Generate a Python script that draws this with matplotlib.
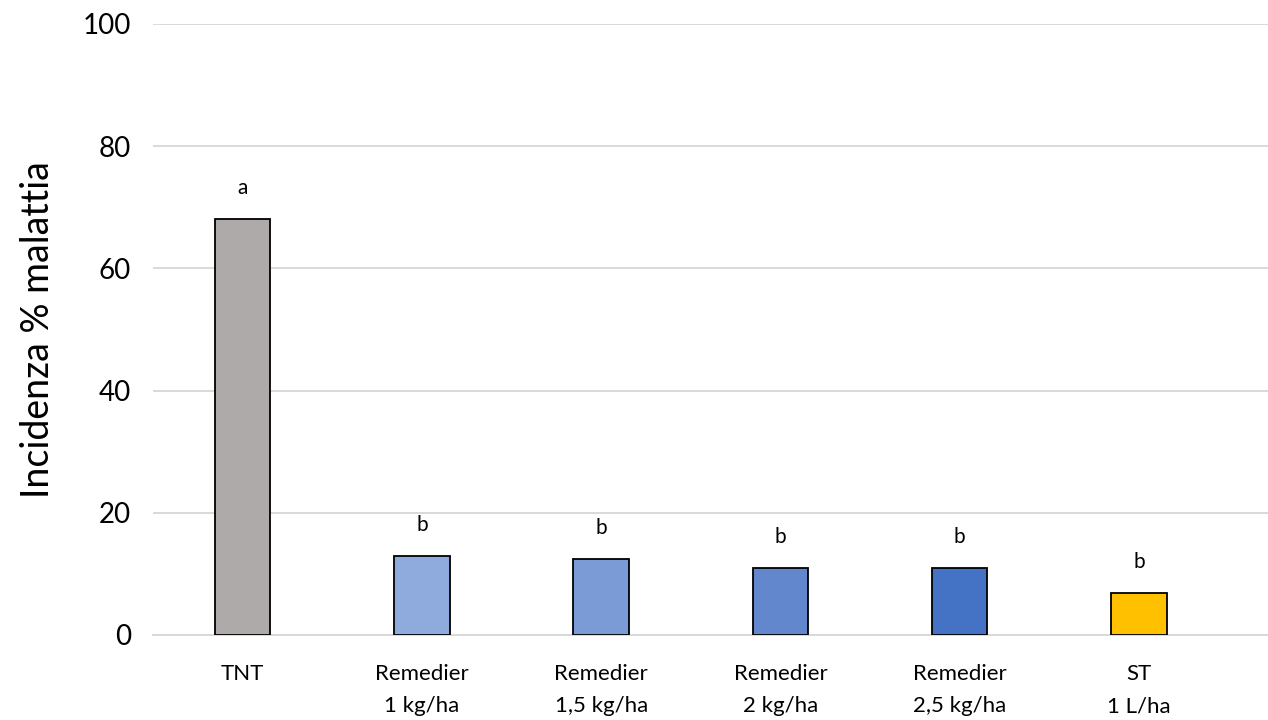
import matplotlib
matplotlib.use("Agg")
import matplotlib.pyplot as plt

# ====================== DATA ======================
categories = ["TNT", "Remedier\n1 kg/ha", "Remedier\n1,5 kg/ha", "Remedier\n2 kg/ha",
              "Remedier\n2,5 kg/ha", "ST\n1 L/ha"]
incidence = [68.0, 12.9, 12.4, 11.0, 11.0, 6.9]
letters = ["a", "b", "b", "b", "b", "b"]
bar_colors = ["#AEAAAA", "#8FAADC", "#7A9BD6", "#6287CD", "#4472C4", "#FFC000"]
y_ticks = [0, 20, 40, 60, 80, 100]

plt.rcParams['font.family'] = ['Lato', 'DejaVu Sans']

fig = plt.figure(figsize=(12.68, 7.2), dpi=100)
ax = fig.add_axes([0.1207, 0.1181, 0.8793, 0.8486])

x = list(range(len(categories)))
ax.bar(x, incidence, width=0.31, color=bar_colors, edgecolor="black", linewidth=1.3, zorder=3)

# significance letters above each bar
for xi, v, lab in zip(x, incidence, letters):
    ax.text(xi, v + 5.1, lab, ha="center", va="center", fontsize=15, color="black")

ax.set_xlim(-0.5, 5.72)
ax.set_ylim(0, 100)
ax.set_yticks(y_ticks)
ax.set_xticks(x)
ax.set_xticklabels(categories, fontsize=16, linespacing=1.75)
ax.tick_params(axis="y", length=0, labelsize=20, pad=16)
ax.tick_params(axis="x", length=0, pad=21)
ax.yaxis.grid(True, color="#D9D9D9", linewidth=1.4, zorder=0)
ax.set_axisbelow(True)
for s in ["top", "right", "left"]:
    ax.spines[s].set_visible(False)
ax.spines["bottom"].set_color("#D9D9D9")
ax.spines["bottom"].set_linewidth(1.4)

ax.set_ylabel("Incidenza % malattia", fontsize=27, labelpad=19)

fig.savefig("out.png", dpi=100, facecolor="white")
